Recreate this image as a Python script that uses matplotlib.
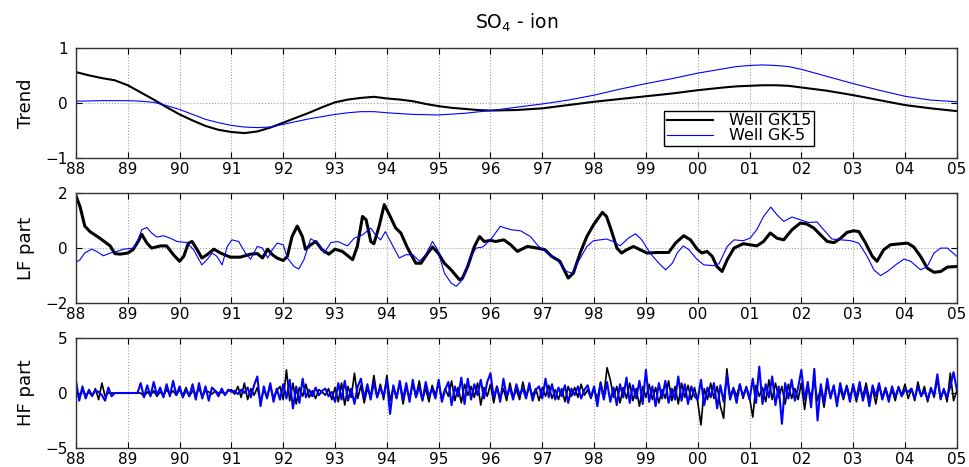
import numpy as np
from matplotlib import pyplot as plt

plt.rcParams['font.family'] = ['DejaVu Sans']

# x axis: years 1988..2005, labelled with two digits
years = np.arange(1988, 2006)
year_labels = ['88', '89', '90', '91', '92', '93', '94', '95', '96',
               '97', '98', '99', '00', '01', '02', '03', '04', '05']
names = ['Well GK15', 'Well GK-5']

# ---- Trend ----
trend_k_t = [1988.0, 1988.25, 1988.5, 1988.75, 1989.0, 1989.25, 1989.5, 1989.75,
             1990.0, 1990.25, 1990.5, 1990.75, 1991.0, 1991.25, 1991.5, 1991.75,
             1992.0, 1992.25, 1992.5, 1992.75, 1993.0, 1993.25, 1993.5, 1993.75,
             1994.0, 1994.25, 1994.5, 1994.75, 1995.0, 1995.25, 1995.5, 1995.75,
             1996.0, 1996.5, 1997.0, 1997.5, 1998.0, 1998.5, 1999.0, 1999.5, 2000.0, 2000.5,
             2000.75, 2001.0, 2001.25, 2001.5, 2001.75, 2002.0, 2002.5, 2003.0, 2003.5,
             2004.0, 2004.5, 2005.0]
trend_k = [0.56, 0.50, 0.45, 0.41, 0.32, 0.19, 0.06, -0.08,
           -0.21, -0.32, -0.42, -0.49, -0.53, -0.55, -0.52, -0.45,
           -0.36, -0.27, -0.18, -0.08, 0.01, 0.06, 0.09, 0.11,
           0.08, 0.06, 0.03, -0.02, -0.06, -0.09, -0.11, -0.13,
           -0.14, -0.13, -0.10, -0.04, 0.02, 0.07, 0.12, 0.17, 0.23, 0.28,
           0.30, 0.31, 0.32, 0.32, 0.31, 0.28, 0.22, 0.14, 0.05,
           -0.04, -0.10, -0.15]

trend_b_t = [1988.0, 1988.5, 1989.0, 1989.25, 1989.5, 1989.75,
             1990.0, 1990.25, 1990.5, 1990.75, 1991.0, 1991.25, 1991.5, 1991.75,
             1992.0, 1992.25, 1992.5, 1992.75, 1993.0, 1993.25, 1993.5, 1993.75,
             1994.0, 1994.5, 1995.0, 1995.5, 1996.0, 1996.5, 1997.0, 1997.5,
             1998.0, 1998.5, 1999.0, 1999.5, 2000.0, 2000.5, 2000.75, 2001.0,
             2001.25, 2001.5, 2001.75, 2002.0, 2002.5, 2003.0, 2003.5, 2004.0,
             2004.5, 2005.0]
trend_b = [0.03, 0.04, 0.04, 0.03, 0.01, -0.05,
           -0.12, -0.21, -0.30, -0.36, -0.41, -0.44, -0.45, -0.44,
           -0.39, -0.34, -0.29, -0.25, -0.21, -0.18, -0.16, -0.16,
           -0.18, -0.21, -0.22, -0.19, -0.14, -0.08, -0.02, 0.05,
           0.14, 0.25, 0.35, 0.44, 0.54, 0.62, 0.66, 0.68,
           0.69, 0.68, 0.66, 0.61, 0.48, 0.35, 0.23, 0.12,
           0.05, 0.02]

# ---- LF part ----
lf_k_t = [1988.00, 1988.08, 1988.17, 1988.27, 1988.46, 1988.66, 1988.75, 1988.85,
          1989.00, 1989.10, 1989.20, 1989.27, 1989.37, 1989.46, 1989.63, 1989.75, 1989.88,
          1990.00, 1990.08, 1990.17, 1990.24, 1990.34, 1990.43, 1990.53, 1990.66, 1990.79, 1990.98,
          1991.17, 1991.37, 1991.50, 1991.60, 1991.70, 1991.79, 1991.88,
          1992.00, 1992.08, 1992.17, 1992.27, 1992.37, 1992.43, 1992.53, 1992.63, 1992.75, 1992.88,
          1993.00, 1993.14, 1993.34, 1993.43, 1993.53, 1993.60, 1993.69, 1993.75, 1993.85, 1993.95,
          1994.05, 1994.17, 1994.27, 1994.40, 1994.56, 1994.66, 1994.79, 1994.88, 1994.99,
          1995.11, 1995.24, 1995.40, 1995.46, 1995.56, 1995.69, 1995.79, 1995.88,
          1996.00, 1996.10, 1996.26, 1996.39, 1996.52, 1996.71, 1996.90,
          1997.05, 1997.18, 1997.34, 1997.50, 1997.60, 1997.73, 1997.86, 1997.99,
          1998.08, 1998.16, 1998.24, 1998.34, 1998.44, 1998.53, 1998.63, 1998.76, 1998.89,
          1999.02, 1999.21, 1999.44, 1999.57, 1999.73, 1999.86, 1999.99,
          2000.08, 2000.18, 2000.28, 2000.37, 2000.47, 2000.57, 2000.70, 2000.88,
          2001.14, 2001.27, 2001.40, 2001.53, 2001.66, 2001.82, 2001.98,
          2002.10, 2002.24, 2002.37, 2002.50, 2002.63, 2002.76, 2002.88,
          2003.01, 2003.11, 2003.24, 2003.37, 2003.46, 2003.59, 2003.72, 2003.92,
          2004.05, 2004.17, 2004.30, 2004.43, 2004.56, 2004.69, 2004.82,
          2005.00]
lf_k = [1.90, 1.50, 0.80, 0.60, 0.36, 0.08, -0.20, -0.22,
        -0.18, -0.06, 0.24, 0.50, 0.18, 0.00, 0.08, 0.08, -0.24,
        -0.48, -0.30, 0.18, 0.24, -0.06, -0.36, -0.24, -0.04, -0.18, -0.33,
        -0.33, -0.22, -0.20, -0.36, -0.04, -0.24, -0.36,
        -0.45, -0.30, 0.42, 0.80, 0.42, -0.04, 0.12, 0.24, -0.06, -0.22,
        -0.04, -0.12, -0.42, 0.06, 1.15, 1.03, 0.24, 0.16, 0.79, 1.58,
        1.21, 0.73, 0.55, 0.00, -0.55, -0.55, -0.18, 0.04, -0.18,
        -0.55, -0.79, -1.15, -1.09, -0.67, 0.06, 0.42, 0.24,
        0.28, 0.24, 0.30, 0.12, -0.12, 0.06, 0.00,
        -0.06, -0.30, -0.48, -1.09, -0.91, -0.18, 0.42, 0.85,
        1.09, 1.30, 1.15, 0.60, 0.00, -0.18, -0.06, 0.06, -0.06,
        -0.18, -0.16, -0.16, 0.18, 0.45, 0.30, -0.04,
        -0.18, -0.12, -0.30, -0.67, -0.85, -0.42, 0.00, 0.16,
        0.08, 0.24, 0.55, 0.36, 0.30, 0.67, 0.91,
        0.88, 0.73, 0.48, 0.24, 0.20, 0.36, 0.57,
        0.63, 0.60, 0.18, -0.30, -0.48, -0.06, 0.12, 0.16,
        0.18, 0.04, -0.30, -0.73, -0.88, -0.85, -0.69,
        -0.67]

lf_b_t = [1988.00, 1988.08, 1988.17, 1988.30, 1988.40, 1988.53, 1988.66, 1988.79, 1988.92,
          1989.11, 1989.21, 1989.27, 1989.37, 1989.46, 1989.56, 1989.69, 1989.82, 1989.95,
          1990.14, 1990.27, 1990.43, 1990.53, 1990.63, 1990.72, 1990.82, 1990.92,
          1991.01, 1991.14, 1991.27, 1991.37, 1991.50, 1991.60, 1991.70, 1991.79, 1991.88,
          1992.00, 1992.08, 1992.21, 1992.30, 1992.40, 1992.53, 1992.66, 1992.79, 1992.92,
          1993.05, 1993.24, 1993.37, 1993.53, 1993.69, 1993.79, 1993.88, 1993.97,
          1994.07, 1994.24, 1994.37, 1994.50, 1994.63, 1994.75, 1994.88, 1994.98,
          1995.11, 1995.24, 1995.34, 1995.46, 1995.59, 1995.72, 1995.85,
          1996.00, 1996.19, 1996.39, 1996.58, 1996.77, 1996.93,
          1997.09, 1997.28, 1997.47, 1997.57, 1997.70, 1997.86, 1997.99,
          1998.24, 1998.37, 1998.50, 1998.66, 1998.80, 1998.92,
          1999.08, 1999.25, 1999.38, 1999.51, 1999.61, 1999.72, 1999.83, 1999.99,
          2000.12, 2000.31, 2000.41, 2000.57, 2000.70, 2000.88,
          2001.01, 2001.14, 2001.27, 2001.41, 2001.53, 2001.66, 2001.82, 2001.98,
          2002.14, 2002.30, 2002.43, 2002.59, 2002.76, 2002.95,
          2003.11, 2003.27, 2003.40, 2003.53, 2003.66, 2003.82, 2003.98,
          2004.11, 2004.30, 2004.43, 2004.56, 2004.69, 2004.82,
          2005.00]
lf_b = [-0.52, -0.42, -0.18, -0.04, -0.12, -0.28, -0.18, -0.12, -0.04,
        0.00, 0.36, 0.67, 0.75, 0.55, 0.40, 0.45, 0.36, 0.24,
        0.20, -0.06, -0.61, -0.42, -0.18, -0.30, -0.61, 0.06,
        0.30, 0.24, -0.18, -0.40, 0.06, 0.00, -0.36, -0.06, 0.18,
        0.12, -0.36, -0.67, -0.76, -0.42, 0.34, 0.20, -0.18, 0.20,
        0.24, 0.08, 0.36, 0.48, 0.73, 0.45, 0.30, 0.60,
        0.24, -0.36, -0.24, -0.24, -0.48, -0.24, 0.24, -0.06,
        -0.91, -1.27, -1.39, -1.15, -0.42, 0.00, 0.04,
        0.30, 0.79, 0.67, 0.63, 0.42, 0.06,
        -0.16, -0.42, -0.85, -0.91, -0.48, 0.06, 0.27,
        0.33, 0.24, 0.08, 0.36, 0.52, 0.30,
        -0.18, -0.55, -0.79, -0.55, -0.16, 0.08, -0.06, -0.42,
        -0.61, -0.64, -0.57, 0.06, 0.30, 0.27,
        0.36, 0.67, 1.15, 1.49, 1.21, 0.97, 1.13, 1.03,
        0.93, 0.95, 0.67, 0.33, 0.30, 0.27,
        0.18, -0.30, -0.79, -1.00, -0.85, -0.61, -0.40,
        -0.48, -0.79, -0.67, -0.18, 0.00, 0.00,
        -0.30]

# ---- HF part: 16 samples per year from 1988.0 ----
hf_per_year = 16
hf_k = [0.5, -0.5, 0.3, -0.2, 0.1, -0.3, 0.4, -0.6, 0.9, -0.3, 0.0, 0.0, 0.0, 0.0, 0.0, 0.0,
        0.0, 0.0, 0.0, 0.0, 0.0, -0.3, 0.1, -0.2, 0.2, -0.3, 0.1, -0.2, 0.3, -0.1, 0.2, -0.2,
        0.3, -0.2, 0.5, -0.3, 0.2, -0.1, 0.4, -0.3, 0.2, 0.1, -0.1, 0.2, 0.0, 0.1, -0.1, 0.2,
        0.3, -0.1, 0.6, -0.4, 0.9, -0.6, 0.4, -0.2, 0.5, -0.8, 0.3, -0.4, 0.7, -0.5, 0.2, 0.6,
        -0.6, 2.1, -0.7, 0.9, -1.0, 0.5, -0.3, 0.8, -0.4, 0.2, -0.5, 0.3, 0.1, -0.2, 0.4, -0.6,
        0.5, -0.8, 0.9, -1.1, 0.6, -0.4, 1.8, -0.5, 0.7, -0.9, 0.4, -0.3, 1.6, -0.4, 0.8, -0.6,
        1.6, -0.7, 0.5, -0.4, 0.9, -1.0, 0.6, -0.5, 0.8, -0.3, 1.1, -0.6, 0.4, -0.8, 0.7, -0.2,
        0.9, -0.6, 0.4, -0.3, 1.1, -0.7, 0.5, -0.9, 0.8, -0.2, 0.6, -0.4, 0.9, -1.1, 0.5, -0.3,
        0.8, -0.9, 0.6, -0.5, 0.4, -0.7, 0.9, -0.4, 0.3, -0.6, 1.0, -0.3, 0.5, -0.2, 0.4, -0.7,
        0.5, -0.3, 0.7, -0.5, 0.3, -0.6, 0.4, -0.8, 0.6, -0.3, 0.5, -0.4, 0.8, -0.2, 0.3, -0.5,
        0.4, -0.6, 1.0, -0.3, 2.3, 1.2, -0.4, 0.6, -0.9, 0.5, -0.5, 0.9, -0.7, 0.4, -1.2, 0.6,
        -0.4, 0.8, -0.6, 0.5, -0.9, 0.3, -0.5, 1.1, -0.7, 0.6, -1.0, 0.9, -0.4, 0.7, -0.6, 0.5,
        -0.8, -2.9, 0.4, -0.6, 0.9, -0.5, 0.6, -1.2, -2.3, 2.2, -0.4, 0.5, -0.3, 0.8, -0.5, 0.6,
        -0.4, -2.2, 0.7, -0.3, 0.5, -0.8, 1.2, -0.6, 0.9, -0.4, 0.6, -1.0, 0.8, -0.5, 0.4, -0.6,
        0.9, -1.5, 0.6, -0.4, 1.1, -0.7, 0.5, -1.3, 0.8, -0.3, 0.6, -0.9, 0.4, -0.6, 0.7, -0.4,
        0.6, -0.8, 0.5, -0.3, 0.9, -0.6, 0.4, -1.0, 0.7, -0.4, 0.5, -0.5, 0.3, -0.7, 0.6, -0.2,
        0.8, -0.5, 0.4, -0.7, 1.0, -0.3, 0.6, -0.8, 0.5, -0.4, 1.3, -0.6, 0.4, -0.8, 1.8, -0.7,
        0.2]
hf_b = [1.1, -0.7, 0.6, -0.5, 0.3, -0.2, 0.2, 0.1, -0.2, -0.7, 0.5, -0.3, 0.0, 0.0, 0.0, 0.0,
        0.0, 0.0, 0.0, 0.0, 0.9, -0.4, 0.7, -0.3, 1.0, -0.2, 0.5, -0.4, 0.8, -0.3, 1.1, -0.2,
        0.6, -0.4, 0.3, -0.3, 0.8, -0.6, 0.9, -0.5, 0.6, -0.7, 0.5, 0.2, -0.3, 0.4, -0.2, 0.3,
        0.1, 0.2, -0.1, 0.3, 0.0, 0.5, -0.4, 0.7, 1.5, -1.2, 0.6, -0.5, 0.9, -0.8, 0.4, -0.6,
        0.8, -0.5, 1.2, -1.4, 0.6, -0.9, 1.3, -0.4, 0.3, -0.3, 0.5, -0.2, 0.2, 0.4, -0.3, 0.1,
        -0.8, 0.9, -0.6, 1.1, -0.7, 0.4, -1.0, 0.6, 1.3, -0.5, 0.8, -0.6, 1.0, -0.4, 0.5, -0.3,
        1.2, -1.9, 0.7, -0.5, 1.1, -0.6, 0.9, -0.8, 1.2, -0.4, 0.6, -0.7, 1.0, -0.3, 0.4, -0.5,
        1.2, -0.8, 0.3, 1.0, -1.1, 0.6, -0.3, 1.4, -1.0, 1.3, -0.6, 0.8, -0.2, 1.2, -0.5, 1.0,
        1.8, -0.4, 0.6, -0.8, 1.3, -0.3, 0.5, -0.6, 0.8, -0.2, 0.4, -0.5, 0.9, -0.7, 0.3, 0.6,
        -0.5, 1.3, -0.4, 0.8, -0.6, 0.5, -0.3, 0.7, -0.9, 0.4, -0.2, 0.6, -0.5, 0.3, 0.7, -0.4,
        0.6, -1.2, 0.9, -0.6, 1.0, -0.8, 0.5, -1.1, 0.8, -0.4, 1.4, -0.9, 0.7, -0.5, 1.1, -1.0,
        2.1, -0.8, 0.6, -1.2, 0.9, -0.5, 1.1, -0.9, 0.4, -0.6, 1.5, -0.7, 0.8, -1.0, 0.6, -0.3,
        -0.6, 1.2, -1.1, 0.5, -0.4, 0.9, -1.4, 0.7, -0.8, 1.6, -0.6, 0.4, -0.9, 0.8, -0.3, 0.5,
        -0.6, 1.3, -0.9, 2.4, -1.0, 0.8, -0.4, 1.5, -1.1, 0.6, -2.8, 0.9, -0.5, 1.2, -0.7, 0.5,
        2.1, -0.6, 1.0, -1.3, 2.2, -2.5, 0.8, -0.9, 1.3, -0.5, 0.7, -1.2, 0.9, -0.4, 0.6, -0.8,
        0.8, -0.5, 1.0, -0.7, 0.5, -1.2, 0.7, -0.3, 0.9, -0.6, 0.4, -0.8, 0.6, -0.4, 0.5, -0.3,
        0.3, 0.1, 0.4, -0.5, 0.6, -0.3, 0.2, -0.6, 0.4, -0.2, 1.7, -0.5, 0.3, -0.4, 0.6, 1.9,
        0.3]

hf_t = 1988 + np.arange(len(hf_k)) / hf_per_year


def style_axes(ax, ylim, yticks, ylabel):
    ax.set_xlim(1988, 2005)
    ax.set_ylim(ylim)
    ax.set_yticks(yticks)
    ax.set_xticks(years)
    ax.set_xticklabels(year_labels)
    ax.grid(True, linestyle=':', color='#a0a0a0', linewidth=0.8)
    ax.tick_params(direction='in', top=True, right=True, length=4, width=0.8,
                   labelsize=11)
    ax.tick_params(axis='x', pad=3)
    ax.tick_params(axis='y', pad=6)
    ax.set_ylabel(ylabel, fontsize=13)
    ax.yaxis.set_label_coords(-0.047, 0.5)
    for s in ax.spines.values():
        s.set_linewidth(1.0)
        s.set_color('#333333')


fig = plt.figure(figsize=(9.69, 4.67), dpi=100)

ax1 = fig.add_axes([0.0784, 0.662, 0.909, 0.2355])
ax1.plot(trend_k_t, trend_k, 'k-', lw=1.5, label=names[0])
ax1.plot(trend_b_t, trend_b, 'b-', lw=0.8, label=names[1])
style_axes(ax1, (-1, 1), [-1, 0, 1], 'Trend')
ax1.set_title(r'SO$_4$ - ion', fontsize=13.5, pad=14)
ax1.legend(loc='lower left', bbox_to_anchor=(0.668, 0.109), fontsize=11.5,
           frameon=True, fancybox=False, edgecolor='black', framealpha=1,
           handlelength=2.9, labelspacing=0.0, borderpad=0.15,
           handletextpad=1.0, borderaxespad=0)

ax2 = fig.add_axes([0.0784, 0.351, 0.909, 0.2355])
ax2.plot(lf_k_t, lf_k, 'k-', lw=2.2)
ax2.plot(lf_b_t, lf_b, 'b-', lw=0.8)
style_axes(ax2, (-2, 2), [-2, 0, 2], 'LF part')

ax3 = fig.add_axes([0.0784, 0.0407, 0.909, 0.2355])
ax3.plot(hf_t, hf_k, 'k-', lw=1.2)
ax3.plot(hf_t, hf_b, 'b-', lw=1.5)
style_axes(ax3, (-5, 5), [-5, 0, 5], 'HF part')

fig.savefig('out.png', dpi=100)
